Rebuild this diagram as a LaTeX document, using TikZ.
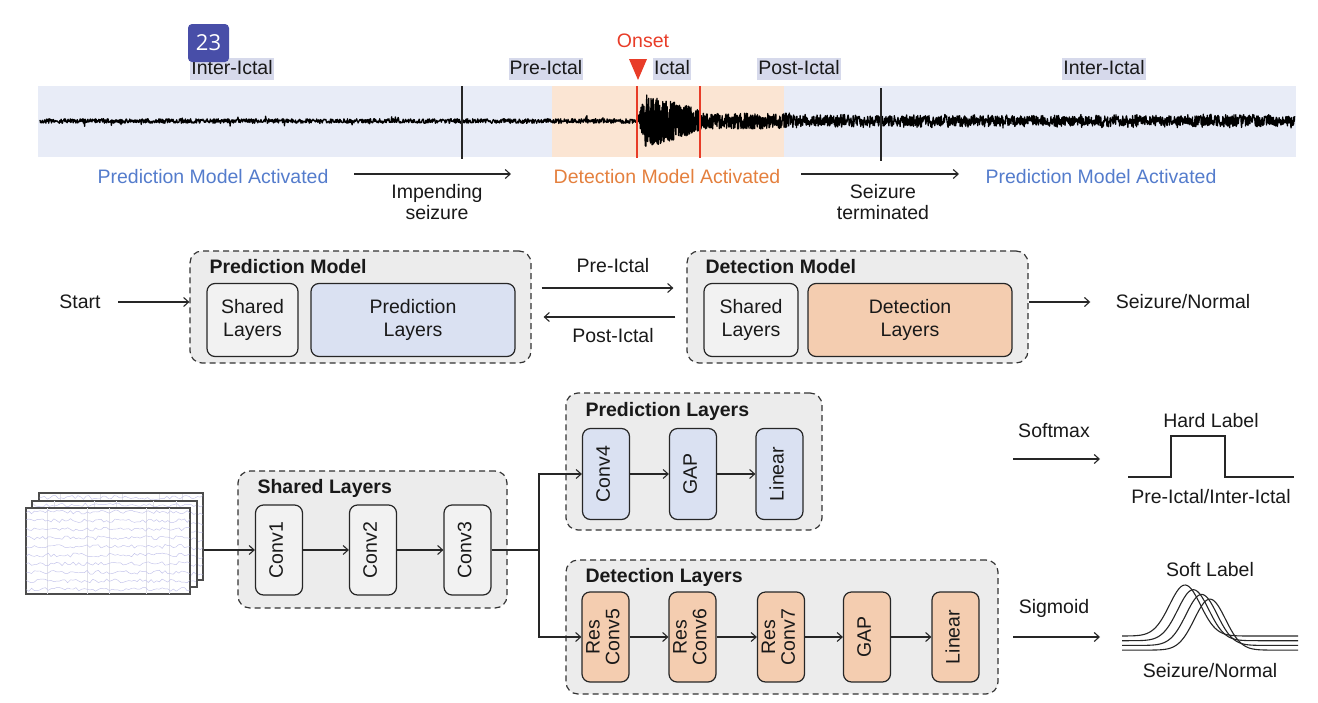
\documentclass[tikz,border=0pt]{standalone}
\usepackage{fontspec}
\setmainfont{Liberation Sans}
\newfontfamily\badgefont{Open Sans}
\usetikzlibrary{arrows.meta}
\definecolor{stripblue}{RGB}{232,236,247}
\definecolor{stripor}{RGB}{251,229,211}
\definecolor{phasebg}{RGB}{214,217,235}
\definecolor{onsetred}{RGB}{232,60,40}
\definecolor{predblue}{RGB}{84,124,204}
\definecolor{detor}{RGB}{228,128,62}
\definecolor{boxgray}{RGB}{236,236,236}
\definecolor{innergray}{RGB}{242,242,242}
\definecolor{predfill}{RGB}{218,225,242}
\definecolor{detfill}{RGB}{244,205,176}
\definecolor{badgecol}{RGB}{72,78,168}
\definecolor{eegline}{RGB}{195,195,235}
\definecolor{eeggrid}{RGB}{225,225,232}
\renewcommand{\arraystretch}{0.86}
\newcommand{\vlab}[1]{\rotatebox{90}{\begin{tabular}{@{}c@{}}#1\end{tabular}}}
\begin{document}
\begin{tikzpicture}[x=1pt,y=-1pt,
  every node/.style={font=\fontsize{19.5}{23}\selectfont, text=black!90},
  arr/.style={-{Straight Barb[length=5pt,width=9pt]}, line width=1.1pt, draw=black!85},
  dashbox/.style={draw=black!80, dash pattern=on 6pt off 4pt, line width=1.2pt, fill=boxgray, rounded corners=12pt, inner sep=0pt},
  layer/.style={draw=black!85, line width=1.2pt, rounded corners=8pt, inner sep=0pt, align=center},
  vlayer/.style={layer, minimum width=47pt, minimum height=90pt},
  phase/.style={fill=phasebg, inner xsep=1pt, inner ysep=1pt, text height=15pt, text depth=5pt},
  titletext/.style={anchor=west, font=\bfseries\fontsize{19.5}{23}\selectfont},
  sheet/.style={draw=black!70, line width=1.3pt, fill=white, minimum width=164pt, minimum height=86pt, inner sep=0pt},
  trace/.style={line width=1.3pt, black, line join=round}
]
\useasboundingbox (0,0) rectangle (1318,702);
\pgfmathsetmacro{\dummy}{0}
\pgfmathsetseed{7}

% ---------- top strip ----------
\fill[stripblue] (38,86) rectangle (1296,157);
\fill[stripor] (552,86) rectangle (784,157);
\draw[trace] plot[domain=40:638, samples=1300] (\x,{121 + 2.3*rand + (rnd>0.96)*4.5*rand});
\draw[trace] plot[domain=638:700, samples=420] (\x,{121 + (\x<645 ? (4+3.3*(\x-638)) : (27 - 15*(\x-645)/55))*rand});
\draw[trace] plot[domain=700:790, samples=350] (\x,{121 + 8*rand});
\draw[trace] plot[domain=790:1295, samples=1400] (\x,{121 + (4.5+2.5*rnd)*rand});
\draw[line width=1.2pt, black!85] (462,86) -- (462,159);
\draw[line width=1.2pt, black!85] (881,88) -- (881,161);
\draw[line width=1.2pt, onsetred] (637,86) -- (637,158);
\draw[line width=1.2pt, onsetred] (700,86) -- (700,158);

\node[phase] (ii1) at (232,69) {Inter-Ictal};
\node[phase] (pre) at (546,69) {Pre-Ictal};
\node[phase] (ict) at (672,69) {Ictal};
\node[phase] (post) at (799,69) {Post-Ictal};
\node[phase] (ii2) at (1104,69) {Inter-Ictal};
\node[text=onsetred] (onset) at (643,41) {Onset};
\fill[onsetred] (629,59) -- (647,59) -- (638,80) -- cycle;
\node[fill=badgecol, rounded corners=4pt, minimum width=41pt, minimum height=38pt, inner sep=0pt, text=white, font=\badgefont\fontsize{22}{24}\selectfont] (badge) at (208.5,43) {23};

\node[text=predblue] (pma1) at (213,177) {Prediction Model Activated};
\node[text=detor] (dma) at (667,177) {Detection Model Activated};
\node[text=predblue] (pma2) at (1101,177) {Prediction Model Activated};
\node[align=center, font=\fontsize{19.5}{21}\selectfont] (imp) at (437,202) {Impending\\seizure};
\node[align=center, font=\fontsize{19.5}{21}\selectfont] (term) at (883,202) {Seizure\\terminated};
\coordinate (a1s) at (354,174); \coordinate (a1e) at (511,174);
\coordinate (a2s) at (801,174); \coordinate (a2e) at (959,174);
\draw[arr] (a1s) -- (a1e);
\draw[arr] (a2s) -- (a2e);

% ---------- middle row ----------
\node[dashbox, minimum width=341pt, minimum height=112pt] (pm) at (360.5,307) {};
\node[titletext] (pmt) at (206,267) {Prediction Model};
\node[layer, fill=innergray, minimum width=91pt, minimum height=73pt] (pshared) at (252.5,320) {Shared\\Layers};
\node[layer, fill=predfill, minimum width=204pt, minimum height=73pt] (ppl) at (413,320) {Prediction\\Layers};

\node[dashbox, minimum width=341pt, minimum height=112pt] (dm) at (857.5,307) {};
\node[titletext] (dmt) at (702,267) {Detection Model};
\node[layer, fill=innergray, minimum width=94pt, minimum height=73pt] (dshared) at (751,320) {Shared\\Layers};
\node[layer, fill=detfill, minimum width=204pt, minimum height=73pt] (dpl) at (910,320) {Detection\\Layers};

\node (start) at (80,302) {Start};
\draw[arr, shorten <=14pt] (start.east) -- (pm.west |- start.east);
\draw[arr, shorten <=10pt, shorten >=13pt] (pm.east |- 0,288) -- (dm.west |- 0,288);
\draw[arr, shorten <=11pt, shorten >=12pt] (dm.west |- 0,317) -- (pm.east |- 0,317);
\node (prelab) at (613,266) {Pre-Ictal};
\node (postlab) at (613,336) {Post-Ictal};
\node (sn1) at (1183,302) {Seizure/Normal};
\draw[arr, shorten >=22pt] (dm.east |- sn1.west) -- (sn1.west);

% ---------- EEG sheets ----------
\foreach \nm/\cx/\cy in {s3/121/536.5, s2/114.5/544, s1/108/551}{
  \node[sheet] (\nm) at (\cx,\cy) {};
  \begin{scope}
    \clip ([xshift=1pt,yshift=-1pt]\nm.north west) rectangle ([xshift=-1pt,yshift=1pt]\nm.south east);
    \foreach \gx in {22,62,84,121,144}{
      \draw[eeggrid, line width=0.5pt] ([xshift=\gx pt]\nm.north west) -- ([xshift=\gx pt]\nm.south west);
    }
    \foreach \k in {0,...,9}{
      \draw[eegline, line width=0.45pt] plot[domain=\cx-82:\cx+82, samples=60] (\x,{\cy-39+\k*8.6 + 2*rand});
    }
  \end{scope}
  \draw[black!70, line width=1.3pt] (\nm.north west) rectangle (\nm.south east);
}

% ---------- Shared layers ----------
\node[dashbox, minimum width=269pt, minimum height=137pt] (sl) at (372.5,539.5) {};
\node[titletext] (slt) at (254,488) {Shared Layers};
\node[vlayer, fill=innergray] (conv1) at (279,550) {\vlab{Conv1}};
\node[vlayer, fill=innergray] (conv2) at (373,550) {\vlab{Conv2}};
\node[vlayer, fill=innergray] (conv3) at (467.5,550) {\vlab{Conv3}};
\draw[arr] (s3.east |- conv1.west) -- (conv1.west);
\draw[arr] (conv1.east) -- (conv2.west);
\draw[arr] (conv2.east) -- (conv3.west);

% ---------- Prediction layers ----------
\node[dashbox, minimum width=256pt, minimum height=137pt] (plb) at (694,461.5) {};
\node[titletext] (plt) at (582,411) {Prediction Layers};
\node[vlayer, fill=predfill, minimum height=91pt] (conv4) at (606,474) {\vlab{Conv4}};
\node[vlayer, fill=predfill, minimum height=91pt] (gap1) at (693,474) {\vlab{GAP}};
\node[vlayer, fill=predfill, minimum height=91pt] (lin1) at (779.5,474) {\vlab{Linear}};
\draw[arr] (conv4.east) -- (gap1.west);
\draw[arr] (gap1.east) -- (lin1.west);

% ---------- Detection layers ----------
\node[dashbox, minimum width=432pt, minimum height=134pt] (dlb) at (782,627) {};
\node[titletext] (dlt) at (582,577) {Detection Layers};
\node[vlayer, fill=detfill] (rc5) at (605.5,637) {\vlab{Res\\Conv5}};
\node[vlayer, fill=detfill] (rc6) at (692.5,637) {\vlab{Res\\Conv6}};
\node[vlayer, fill=detfill] (rc7) at (781,637) {\vlab{Res\\Conv7}};
\node[vlayer, fill=detfill] (gap2) at (867,637) {\vlab{GAP}};
\node[vlayer, fill=detfill] (lin2) at (955.5,637) {\vlab{Linear}};
\draw[arr] (rc5.east) -- (rc6.west);
\draw[arr] (rc6.east) -- (rc7.west);
\draw[arr] (rc7.east) -- (gap2.west);
\draw[arr] (gap2.east) -- (lin2.west);

% ---------- branch ----------
\coordinate (br) at (539,550);
\draw[line width=1.1pt, black!85] (conv3.east) -- (br);
\draw[arr] (br) |- (conv4.west);
\draw[arr] (br) |- (rc5.west);

% ---------- outputs ----------
\node (softmax) at (1054,431) {Softmax};
\coordinate (smS) at (1013,459); \coordinate (smE) at (1100,459);
\draw[arr] (smS) -- (smE);
\node (hard) at (1211,421) {Hard Label};
\draw[line width=1.2pt, black!85] (1128,477) -- (1171,477) -- (1171,436) -- (1225,436) -- (1225,477) -- (1294,477);
\node (piii) at (1211,497) {Pre-Ictal/Inter-Ictal};

\node (sigmoid) at (1054,608) {Sigmoid};
\coordinate (sgS) at (1013,637); \coordinate (sgE) at (1100,637);
\draw[arr] (sgS) -- (sgE);
\node (soft) at (1210,570) {Soft Label};
\foreach \i in {0,...,3}{
  \draw[line width=1.1pt, black!85] plot[domain=1122:1298, samples=120] (\x,{636+4.7*\i - 51*exp(-1*(((\x-1185-8.3*\i)/22)^2))});
}
\node (sn2) at (1210,671) {Seizure/Normal};
\end{tikzpicture}
\end{document}
